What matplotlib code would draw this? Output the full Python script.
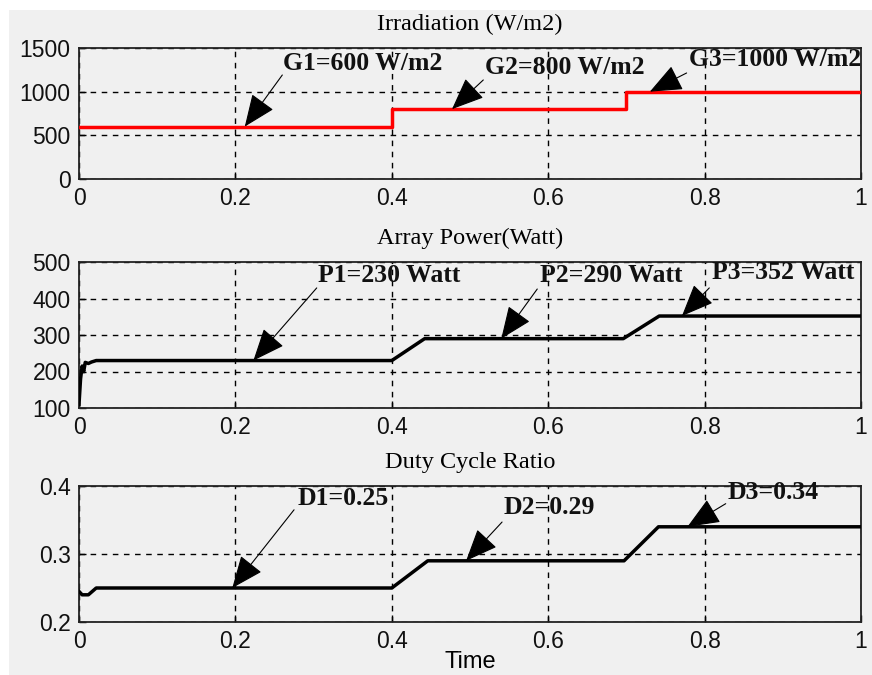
import numpy as np
import matplotlib
matplotlib.use("Agg")
import matplotlib.pyplot as plt
from matplotlib.patches import Rectangle

# ---- data ----
# Irradiation step profile (W/m2)
irr_t = [0.0, 0.4, 0.4, 0.7, 0.7, 1.0]
irr_g = [600, 600, 800, 800, 1000, 1000]

# Array power (W)
pow_t = [0.0, 0.002, 0.004, 0.006, 0.008, 0.012, 0.016, 0.022, 0.03, 0.4, 0.442, 0.696, 0.742, 1.0]
pow_p = [110, 180, 215, 200, 225, 222, 226, 230, 230, 230, 290, 290, 352, 352]

# Duty cycle ratio
duty_t = [0.0, 0.004, 0.012, 0.022, 0.03, 0.4, 0.446, 0.697, 0.741, 1.0]
duty_d = [0.245, 0.240, 0.240, 0.250, 0.25, 0.25, 0.29, 0.29, 0.34, 0.34]

titles = ["Irradiation (W/m2)", "Array Power(Watt)", "Duty Cycle Ratio"]
x_ticks = [0, 0.2, 0.4, 0.6, 0.8, 1]
x_ticklabels = ["0", "0.2", "0.4", "0.6", "0.8", "1"]
irr_yticks = [0, 500, 1000, 1500]
pow_yticks = [100, 200, 300, 400, 500]
duty_yticks = [0.2, 0.3, 0.4]

# annotation texts with (text xy, arrow tail xy, arrow head xy)
irr_notes = [
    ("G1=600 W/m2", (0.261, 1328), (0.260, 1191), (0.212, 600)),
    ("G2=800 W/m2", (0.519, 1282), (0.517, 1134), (0.477, 800)),
    ("G3=1000 W/m2", (0.780, 1374), (0.777, 1214), (0.730, 1000)),
]
pow_notes = [
    ("P1=230 Watt", (0.306, 464), (0.304, 429), (0.223, 230)),
    ("P2=290 Watt", (0.589, 464), (0.586, 426), (0.540, 290)),
    ("P3=352 Watt", (0.809, 470), (0.806, 429), (0.771, 352)),
]
duty_notes = [
    ("D1=0.25", (0.279, 0.382), (0.275, 0.365), (0.196, 0.25)),
    ("D2=0.29", (0.543, 0.368), (0.541, 0.347), (0.495, 0.29)),
    ("D3=0.34", (0.830, 0.391), (0.827, 0.374), (0.778, 0.34)),
]

BG = "#f0f0f0"
W, H = 872, 675
fig = plt.figure(figsize=(W / 100, H / 100), dpi=100, facecolor="white")
fig.patches.append(Rectangle((9 / W, 0), 1 - 9 / W, 1 - 10 / H,
                             transform=fig.transFigure, facecolor=BG,
                             edgecolor="none", zorder=-10))


def px_axes(left, top, right, bottom):
    return fig.add_axes([left / W, 1 - bottom / H, (right - left) / W, (bottom - top) / H])


ax1 = px_axes(79, 48, 861, 179)
ax2 = px_axes(79, 262, 861, 408)
ax3 = px_axes(79, 486, 861, 622)

tick_font = dict(family="Liberation Sans", size=16.5)
title_font = dict(family="Liberation Serif", size=17.5)
note_font = dict(family="Liberation Serif", size=18.5, weight="bold")


def style(ax, yticks, title):
    ax.set_facecolor(BG)
    ax.set_xlim(0, 1)
    ax.set_ylim(yticks[0], yticks[-1])
    ax.set_xticks(x_ticks)
    ax.set_xticklabels(x_ticklabels, **tick_font, color="#111111")
    ax.set_yticks(yticks)
    ax.set_yticklabels([f"{v:g}" for v in yticks], **tick_font, color="#111111")
    ax.tick_params(direction="in", length=5, width=1, top=False, right=False)
    ax.tick_params(axis="x", pad=6)
    ax.tick_params(axis="y", pad=6)
    for s in ax.spines.values():
        s.set_linewidth(1.3)
        s.set_color("#222222")
    ax.grid(True, color="black", linestyle=(0, (4, 4)), linewidth=1.0)
    ax.set_axisbelow(True)
    ax.set_title(title, **title_font, pad=13)


def annotate(ax, notes):
    for txt, txy, tail, head in notes:
        ax.text(txy[0], txy[1], txt, ha="left", va="center", **note_font,
                color="#111111", clip_on=False, zorder=6)
        ax.annotate("", xy=head, xytext=tail,
                    arrowprops=dict(arrowstyle="-|>,head_length=1.2,head_width=0.5",
                                    mutation_scale=17, color="black", lw=0.8,
                                    shrinkA=0, shrinkB=0),
                    zorder=5)


style(ax1, irr_yticks, titles[0])
ax1.plot(irr_t, irr_g, color="#ff0000", lw=2.5, zorder=3)
annotate(ax1, irr_notes)

style(ax2, pow_yticks, titles[1])
ax2.plot(pow_t, pow_p, color="black", lw=2.5, zorder=3)
annotate(ax2, pow_notes)

style(ax3, duty_yticks, titles[2])
ax3.plot(duty_t, duty_d, color="black", lw=2.5, zorder=3)
annotate(ax3, duty_notes)
ax3.set_xlabel("Time", family="Liberation Sans", size=17, labelpad=-2)

fig.savefig("out.png", dpi=100, facecolor="white")
